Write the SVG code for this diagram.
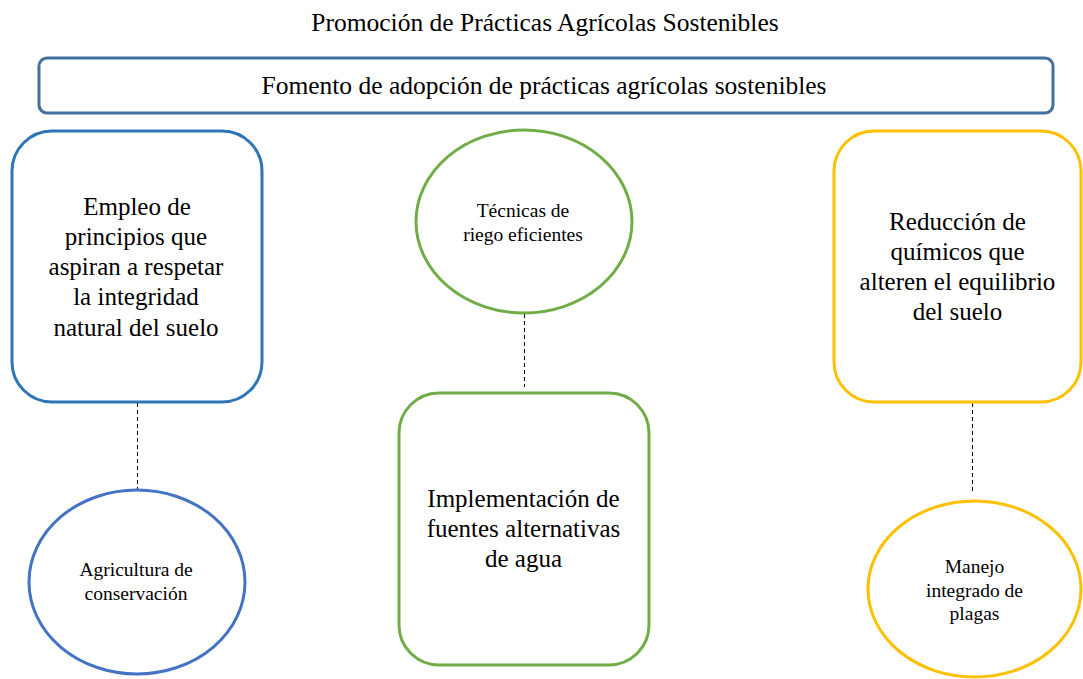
<svg xmlns="http://www.w3.org/2000/svg" width="1083" height="679" viewBox="0 0 1083 679">
<style>
text{font-family:"Liberation Serif","Times New Roman",serif;fill:#000;text-anchor:middle}
.big{font-size:25px}
.sm{font-size:19.5px}
.ttl{font-size:25.5px}
.node{fill:#fff;stroke-width:3}
.blue{stroke:#2E75B6}
.blue2{stroke:#4472C4}
.green{stroke:#70AD47}
.yellow{stroke:#FFC000}
.conn line{stroke:#000;stroke-width:1;stroke-dasharray:4 3}
</style>
<rect width="1083" height="679" fill="#fff"/>
<text class="ttl" x="545" y="31">Promoción de Prácticas Agrícolas Sostenibles</text>
<g id="top">
<rect x="39" y="58" width="1014" height="55" rx="8" fill="#fff" stroke="#41719C" stroke-width="3"/>
<text class="ttl" x="544" y="94">Fomento de adopción de prácticas agrícolas sostenibles</text>
</g>
<g class="conn" id="connectors">
<line x1="137.5" y1="403" x2="137.5" y2="490"/>
<line x1="524.5" y1="314" x2="524.5" y2="387"/>
<line x1="972.5" y1="403" x2="972.5" y2="494"/>
</g>
<g id="n-empleo">
<rect class="node blue" x="12" y="131" width="250" height="271" rx="40"/>
<text class="big" x="137" y="215">Empleo de</text>
<text class="big" x="136" y="245">principios que</text>
<text class="big" x="136" y="275">aspiran a respetar</text>
<text class="big" x="136" y="305">la integridad</text>
<text class="big" x="136" y="336">natural del suelo</text>
</g>
<g id="n-agricultura">
<ellipse class="node blue2" cx="137" cy="582" rx="108" ry="92"/>
<text class="sm" x="136" y="576">Agricultura de</text>
<text class="sm" x="136" y="600">conservación</text>
</g>
<g id="n-tecnicas">
<ellipse class="node green" cx="524" cy="221.5" rx="108" ry="91.5"/>
<text class="sm" x="523" y="217">Técnicas de</text>
<text class="sm" x="523" y="241">riego eficientes</text>
</g>
<g id="n-implementacion">
<rect class="node green" x="399" y="393" width="250" height="272" rx="40"/>
<text class="big" x="523.5" y="507">Implementación de</text>
<text class="big" x="523.5" y="537">fuentes alternativas</text>
<text class="big" x="523.5" y="567">de agua</text>
</g>
<g id="n-reduccion">
<rect class="node yellow" x="834" y="131" width="247" height="271" rx="40"/>
<text class="big" x="957.5" y="230">Reducción de</text>
<text class="big" x="957.5" y="260">químicos que</text>
<text class="big" x="957.5" y="290">alteren el equilibrio</text>
<text class="big" x="957.5" y="320">del suelo</text>
</g>
<g id="n-manejo">
<ellipse class="node yellow" cx="974.5" cy="589" rx="106.5" ry="88"/>
<text class="sm" x="974.5" y="573">Manejo</text>
<text class="sm" x="974.5" y="597">integrado de</text>
<text class="sm" x="974.5" y="620">plagas</text>
</g>
</svg>
